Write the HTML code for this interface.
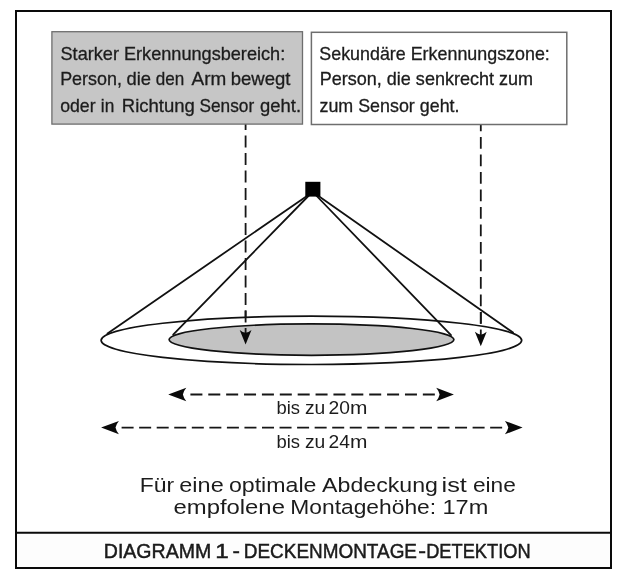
<!DOCTYPE html>
<html lang="de">
<head>
<meta charset="utf-8">
<title>Diagramm 1 - Deckenmontage-Detektion</title>
<style>
  html, body { margin: 0; padding: 0; background: #ffffff; }
  body { width: 623px; height: 577px; overflow: hidden; position: relative; }
  svg { position: absolute; left: 0; top: 0; display: block; filter: blur(0.45px); }
  text { font-family: "Liberation Sans", sans-serif; fill: #1c1c1c; }
</style>
</head>
<body>
<svg width="623" height="577" viewBox="0 0 623 577">
  <rect x="0" y="0" width="623" height="577" fill="#ffffff"/>

  <!-- outer frame -->
  <rect x="16" y="532.7" width="595" height="35.3" fill="#fdfdfd"/>
  <rect x="16" y="11" width="595" height="557" fill="none" stroke="#0a0a0a" stroke-width="2"/>
  <line x1="16" y1="532.7" x2="611" y2="532.7" stroke="#0a0a0a" stroke-width="2"/>

  <!-- vertical dashed leader lines (drawn behind boxes) -->
  <line x1="245.6" y1="118.1" x2="245.6" y2="334" stroke="#161616" stroke-width="1.8" stroke-dasharray="11.8 5.7"/>
  <line x1="480.8" y1="119.4" x2="480.8" y2="335.6" stroke="#161616" stroke-width="1.8" stroke-dasharray="11.8 5.7"/>

  <!-- label boxes -->
  <rect x="51.9" y="31.7" width="250.6" height="92.4" fill="#c6c6c6" stroke="#6e6e6e" stroke-width="1.3"/>
  <rect x="311.4" y="32.3" width="255.4" height="92.2" fill="#ffffff" stroke="#6e6e6e" stroke-width="1.5"/>

  <!-- box text -->
  <g font-size="18.1" style="stroke:#1c1c1c;stroke-width:0.3">
    <text x="60.5" y="59.9" textLength="224.7" lengthAdjust="spacingAndGlyphs">Starker Erkennungsbereich:</text>
    <text x="60.16" y="85.1" textLength="61.73" lengthAdjust="spacingAndGlyphs">Person,</text>
    <text x="126.52" y="85.1" textLength="24.53" lengthAdjust="spacingAndGlyphs">die</text>
    <text x="155.86" y="85.1" textLength="28.47" lengthAdjust="spacingAndGlyphs">den</text>
    <text x="191.56" y="85.1" textLength="34.69" lengthAdjust="spacingAndGlyphs">Arm</text>
    <text x="230.68" y="85.1" textLength="59.71" lengthAdjust="spacingAndGlyphs">bewegt</text>
    <text x="60.20" y="112.1" textLength="35.42" lengthAdjust="spacingAndGlyphs">oder</text>
    <text x="100.86" y="112.1" textLength="13.43" lengthAdjust="spacingAndGlyphs">in</text>
    <text x="121.82" y="112.1" textLength="73.11" lengthAdjust="spacingAndGlyphs">Richtung</text>
    <text x="199.52" y="112.1" textLength="54.68" lengthAdjust="spacingAndGlyphs">Sensor</text>
    <text x="260.04" y="112.1" textLength="40.99" lengthAdjust="spacingAndGlyphs">geht.</text>
    <text x="319.3" y="59.9" textLength="230.5" lengthAdjust="spacingAndGlyphs">Sekundäre Erkennungszone:</text>
    <text x="319.7" y="85.1" textLength="213.4" lengthAdjust="spacingAndGlyphs">Person, die senkrecht zum</text>
    <text x="319.5" y="112.1" textLength="140.0" lengthAdjust="spacingAndGlyphs">zum Sensor geht.</text>
  </g>

  <!-- ellipses -->
  <ellipse cx="311.4" cy="340.35" rx="210.3" ry="24.15" fill="#ffffff" stroke="#111111" stroke-width="1.7"/>
  <ellipse cx="311.5" cy="339.6" rx="142.4" ry="15.7" fill="#c3c3c3" stroke="#111111" stroke-width="1.7"/>

  <!-- cone lines -->
  <g stroke="#111111" stroke-width="1.8" fill="none" stroke-linecap="round">
    <line x1="312.8" y1="192" x2="107.5" y2="333.4"/>
    <line x1="312.3" y1="192" x2="173.2" y2="334.6"/>
    <line x1="312.8" y1="192" x2="451" y2="335.2"/>
    <line x1="312.8" y1="192" x2="513" y2="332.5"/>
  </g>

  <!-- redraw dashed leaders over ellipses -->
  <line x1="245.6" y1="310.6" x2="245.6" y2="334" stroke="#161616" stroke-width="1.8" stroke-dasharray="11.8 5.7"/>
  <line x1="480.8" y1="311.9" x2="480.8" y2="335.6" stroke="#161616" stroke-width="1.8" stroke-dasharray="11.8 5.7"/>

  <!-- leader arrowheads -->
  <path d="M245.6 344.4 L239.7 329.9 Q242.8 332.2 245.6 332.8 Q248.4 332.2 251.5 329.9 Z" fill="#0a0a0a"/>
  <path d="M480.8 346.3 L474.9 331.8 Q478 334.1 480.8 334.7 Q483.6 334.1 486.7 331.8 Z" fill="#0a0a0a"/>

  <!-- sensor -->
  <rect x="305.3" y="181.8" width="15.1" height="14.8" fill="#000000"/>

  <!-- dimension arrows -->
  <line x1="190.4" y1="394.5" x2="436" y2="394.5" stroke="#161616" stroke-width="1.8" stroke-dasharray="12 5.88"/>
  <path d="M168.2 394.5 L186.3 387.8 Q183.6 391 182.9 394.5 Q183.6 398 186.3 401.2 Z" fill="#0a0a0a"/>
  <path d="M453.9 394.5 L436.2 387.8 Q438.9 391 439.6 394.5 Q438.9 398 436.2 401.2 Z" fill="#0a0a0a"/>

  <line x1="121.6" y1="427.6" x2="503" y2="427.6" stroke="#161616" stroke-width="1.8" stroke-dasharray="12 5.55"/>
  <path d="M101.1 427.6 L118.9 420.9 Q116.2 424.1 115.5 427.6 Q116.2 431.1 118.9 434.3 Z" fill="#0a0a0a"/>
  <path d="M522.6 427.6 L504.9 420.9 Q507.6 424.1 508.3 427.6 Q507.6 431.1 504.9 434.3 Z" fill="#0a0a0a"/>

  <g font-size="17.6" style="fill:#222222">
    <text x="276.5" y="414.4" textLength="23.6" lengthAdjust="spacingAndGlyphs">bis</text>
    <text x="304.9" y="414.4" textLength="20.4" lengthAdjust="spacingAndGlyphs">zu</text>
    <text x="328.5" y="414.4" textLength="21.4" lengthAdjust="spacingAndGlyphs">20</text>
    <text x="350.0" y="414.4" textLength="17.4" lengthAdjust="spacingAndGlyphs">m</text>
    <text x="276.5" y="447.6" textLength="23.6" lengthAdjust="spacingAndGlyphs">bis</text>
    <text x="304.9" y="447.6" textLength="20.4" lengthAdjust="spacingAndGlyphs">zu</text>
    <text x="328.5" y="447.6" textLength="21.4" lengthAdjust="spacingAndGlyphs">24</text>
    <text x="350.0" y="447.6" textLength="17.4" lengthAdjust="spacingAndGlyphs">m</text>
  </g>

  <!-- note -->
  <g font-size="20.5">
    <text x="139.7" y="491.6" textLength="34.4" lengthAdjust="spacingAndGlyphs">Für</text>
    <text x="179.3" y="491.6" textLength="44.4" lengthAdjust="spacingAndGlyphs">eine</text>
    <text x="228.9" y="491.6" textLength="87.6" lengthAdjust="spacingAndGlyphs">optimale</text>
    <text x="322.1" y="491.6" textLength="115.8" lengthAdjust="spacingAndGlyphs">Abdeckung</text>
    <text x="441.6" y="491.6" textLength="25.3" lengthAdjust="spacingAndGlyphs">ist</text>
    <text x="472.9" y="491.6" textLength="43.0" lengthAdjust="spacingAndGlyphs">eine</text>
    <text x="173.5" y="514.4" textLength="111.4" lengthAdjust="spacingAndGlyphs">empfolene</text>
    <text x="290.3" y="514.4" textLength="145.8" lengthAdjust="spacingAndGlyphs">Montagehöhe:</text>
    <text x="442.5" y="514.4" textLength="45.8" lengthAdjust="spacingAndGlyphs">17m</text>
  </g>

  <!-- caption -->
  <g font-size="20.4" style="fill:#111111;stroke:#111111;stroke-width:0.45">
    <text x="103.8" y="558.4" textLength="107.4" lengthAdjust="spacingAndGlyphs">DIAGRAMM</text>
    <text x="215.3" y="558.4" textLength="13.5" lengthAdjust="spacingAndGlyphs">1</text>
    <text x="232.4" y="558.4" textLength="7.4" lengthAdjust="spacingAndGlyphs">-</text>
    <text x="243.8" y="558.4" textLength="173.2" lengthAdjust="spacingAndGlyphs">DECKENMONTAGE</text>
    <text x="418.2" y="558.4" textLength="7.8" lengthAdjust="spacingAndGlyphs">-</text>
    <text x="426.2" y="558.4" textLength="104.4" lengthAdjust="spacingAndGlyphs">DETEKTION</text>
  </g>
</svg>
</body>
</html>
